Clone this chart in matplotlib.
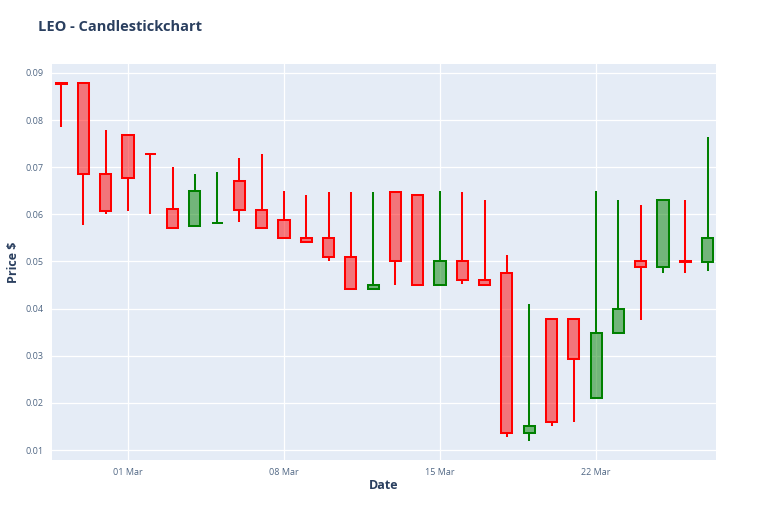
import matplotlib
matplotlib.use("Agg")
import matplotlib.pyplot as plt
import matplotlib.dates as mdates
import numpy as np
import datetime as dt

plt.rcParams['font.family'] = ['Open Sans', 'DejaVu Sans']

dates = [dt.date(2021, 2, 26) + dt.timedelta(days=i) for i in range(30)]
opens = [0.0879, 0.0878, 0.0686, 0.0768, 0.0728, 0.0611, 0.0575, 0.0581, 0.0670, 0.0610,
         0.0589, 0.0550, 0.0550, 0.0510, 0.0441, 0.0648, 0.0640, 0.0450, 0.0500, 0.0461,
         0.0475, 0.0137, 0.0379, 0.0378, 0.0211, 0.0349, 0.0501, 0.0489, 0.0500, 0.0499]
closes = [0.0877, 0.0686, 0.0608, 0.0678, 0.0727, 0.0572, 0.0649, 0.0582, 0.0610, 0.0570,
          0.0550, 0.0541, 0.0510, 0.0441, 0.0450, 0.0500, 0.0450, 0.0500, 0.0461, 0.0450,
          0.0137, 0.0150, 0.0160, 0.0293, 0.0349, 0.0400, 0.0489, 0.0630, 0.0499, 0.0550]
highs = [0.0879, 0.0878, 0.0780, 0.0768, 0.0728, 0.0700, 0.0686, 0.0690, 0.0719, 0.0728,
         0.0649, 0.0640, 0.0648, 0.0647, 0.0647, 0.0648, 0.0640, 0.0649, 0.0648, 0.0630,
         0.0514, 0.0409, 0.0379, 0.0378, 0.0649, 0.0630, 0.0619, 0.0630, 0.0630, 0.0764]
lows = [0.0785, 0.0578, 0.0600, 0.0608, 0.0600, 0.0571, 0.0575, 0.0581, 0.0583, 0.0570,
        0.0550, 0.0541, 0.0500, 0.0441, 0.0440, 0.0450, 0.0450, 0.0450, 0.0453, 0.0450,
        0.0128, 0.0120, 0.0150, 0.0160, 0.0211, 0.0349, 0.0375, 0.0475, 0.0475, 0.0480]

y_ticks = [0.01, 0.02, 0.03, 0.04, 0.05, 0.06, 0.07, 0.08, 0.09]
x_ticks = [dt.date(2021, 3, 1), dt.date(2021, 3, 8), dt.date(2021, 3, 15), dt.date(2021, 3, 22)]

fig = plt.figure(figsize=(7.68, 5.12), dpi=100)
ax = fig.add_axes([52/768, 1 - 460/512, (716-52)/768, (460-64)/512])
ax.set_facecolor('#E5ECF6')
for s in ax.spines.values():
    s.set_visible(False)

x = mdates.date2num(dates)
o = np.array(opens); c = np.array(closes); h = np.array(highs); l = np.array(lows)
inc = c >= o
lw = 1.45
for i in range(len(x)):
    col = 'green' if inc[i] else 'red'
    top = max(o[i], c[i]); bot = min(o[i], c[i])
    ax.bar(x[i], top - bot, bottom=bot, width=0.5, color=col, alpha=0.5, linewidth=0, zorder=3)
    ax.bar(x[i], top - bot, bottom=bot, width=0.5, facecolor='none', edgecolor=col, linewidth=lw, zorder=4)
    if h[i] > top:
        ax.vlines(x[i], top, h[i], color=col, linewidth=lw, zorder=4)
    if l[i] < bot:
        ax.vlines(x[i], l[i], bot, color=col, linewidth=lw, zorder=4)

ax.set_xlim(x[0] - 0.41, x[-1] + 0.38)
ax.set_ylim(0.00788, 0.0919)
ax.set_yticks(y_ticks)
ax.set_yticklabels([f"{v:.2f}" for v in y_ticks])
ax.set_xticks(mdates.date2num(x_ticks))
ax.set_xticklabels([d.strftime('%d %b') for d in x_ticks])
ax.grid(True, color='white', linewidth=0.9, zorder=0)
ax.set_axisbelow(True)
ax.tick_params(length=0, labelsize=6.5, colors='#506784', pad=6)

ax.set_xlabel('Date', fontsize=9, fontweight='bold', color='#2a3f5f', labelpad=1)
ax.set_ylabel('Price $', fontsize=9, fontweight='bold', color='#2a3f5f', labelpad=4)
fig.text(38/768, 1 - 27/512, 'LEO - Candlestickchart', fontsize=10.5, fontweight='bold',
         color='#2a3f5f', va='center', ha='left')

fig.savefig('out.png', dpi=100)
